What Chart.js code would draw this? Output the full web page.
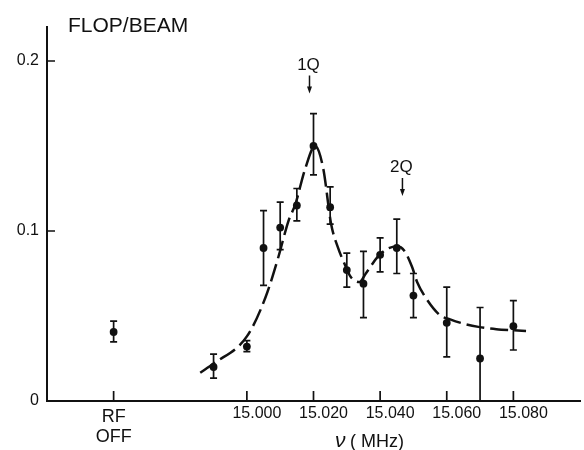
<!DOCTYPE html>
<html>
<head>
<meta charset="utf-8">
<title>Flop per beam vs RF frequency</title>
<script src="https://cdn.jsdelivr.net/npm/chart.js@4.4.0/dist/chart.umd.min.js"></script>
<style>
  html, body { margin: 0; padding: 0; background: #fff; }
  #flopChart { display: block; }
</style>
</head>
<body>
<canvas id="flopChart" width="584" height="450"></canvas>
<script>
// Measured flop/beam against RF frequency (MHz)
const freqs   = [14.990, 15.000, 15.005, 15.010, 15.015, 15.020, 15.025, 15.030, 15.035, 15.040, 15.045, 15.050, 15.060, 15.070, 15.080];
const flop    = [0.020, 0.032, 0.090, 0.102, 0.115, 0.150, 0.114, 0.077, 0.069, 0.086, 0.090, 0.062, 0.046, 0.025, 0.044];
const errLow  = [0.0135, 0.029, 0.068, 0.089, 0.106, 0.133, 0.104, 0.067, 0.049, 0.076, 0.075, 0.049, 0.026, 0.000, 0.030];
const errHigh = [0.0276, 0.0355, 0.112, 0.117, 0.125, 0.169, 0.126, 0.087, 0.088, 0.096, 0.107, 0.075, 0.067, 0.055, 0.059];

// RF off reference, placed left of the frequency scale
const rfOffPos = 14.960;
const rfOffFlop = 0.0406;
const rfOffErr = [0.0348, 0.047];

// Fitted line shape (two resonances)
const fitFreq = [14.986, 14.990, 15.000, 15.0056, 15.0095, 15.0125, 15.0146, 15.0174, 15.0205, 15.0229, 15.0253, 15.0273, 15.0293, 15.0312, 15.0338, 15.0357, 15.0392, 15.0422, 15.0452, 15.0472, 15.0496, 15.0511, 15.0536, 15.058, 15.061, 15.065, 15.0695, 15.0749, 15.0799, 15.0838];
const fitFlop = [0.0166, 0.022, 0.038, 0.061, 0.085, 0.106, 0.116, 0.136, 0.150, 0.137, 0.104, 0.0905, 0.0807, 0.0729, 0.070, 0.075, 0.0846, 0.0896, 0.0909, 0.0886, 0.0788, 0.070, 0.061, 0.0504, 0.048, 0.0455, 0.0436, 0.0422, 0.0416, 0.0412];

// Resonance markers
const peakLabels = ['1Q', '2Q'];
const peakFreqs = [15.0188, 15.0467];
const peakTops = [0.195, 0.1347];

// Axis ticks
const xTicks = [15.000, 15.020, 15.040, 15.060, 15.080];
const xTickLabels = ['15.000', '15.020', '15.040', '15.060', '15.080'];
const rfOffLabel = ['RF', 'OFF'];
const yTicks = [0, 0.1, 0.2];
const yTickLabels = ['0', '0.1', '0.2'];

const INK = '#111';
const FONT = '"Liberation Sans", Arial, sans-serif';

Chart.defaults.font.family = FONT;
Chart.defaults.color = INK;

// Error bars, inward ticks, labels and resonance arrows
const figureMarks = {
  id: 'figureMarks',
  afterDatasetsDraw(chart) {
    const { ctx, chartArea } = chart;
    const xs = chart.scales.x;
    const ys = chart.scales.y;
    ctx.save();
    ctx.strokeStyle = INK;
    ctx.lineWidth = 1.7;

    const bar = (xv, lo, hi) => {
      const px = xs.getPixelForValue(xv);
      const y0 = ys.getPixelForValue(lo);
      const y1 = ys.getPixelForValue(hi);
      ctx.beginPath();
      ctx.moveTo(px, y0); ctx.lineTo(px, y1);
      ctx.moveTo(px - 3.5, y0); ctx.lineTo(px + 3.5, y0);
      ctx.moveTo(px - 3.5, y1); ctx.lineTo(px + 3.5, y1);
      ctx.stroke();
    };
    freqs.forEach((f, i) => bar(f, errLow[i], errHigh[i]));
    bar(rfOffPos, rfOffErr[0], rfOffErr[1]);

    // inward tick marks
    ctx.lineWidth = 1.7;
    ctx.beginPath();
    [rfOffPos, ...xTicks].forEach((v) => {
      const px = xs.getPixelForValue(v);
      ctx.moveTo(px, chartArea.bottom);
      ctx.lineTo(px, chartArea.bottom - 10);
    });
    yTicks.filter((v) => v > 0).forEach((v) => {
      const py = ys.getPixelForValue(v);
      ctx.moveTo(chartArea.left, py);
      ctx.lineTo(chartArea.left + 8, py);
    });
    ctx.stroke();

    // resonance arrows
    ctx.fillStyle = INK;
    ctx.textAlign = 'center';
    ctx.textBaseline = 'alphabetic';
    ctx.font = '17px ' + FONT;
    peakLabels.forEach((lab, i) => {
      const px = xs.getPixelForValue(peakFreqs[i]);
      const py = ys.getPixelForValue(peakTops[i]);
      ctx.fillText(lab, px - 1, py);
      ctx.lineWidth = 1.5;
      ctx.beginPath();
      ctx.moveTo(px, py + 6);
      ctx.lineTo(px, py + 20);
      ctx.stroke();
      ctx.beginPath();
      ctx.moveTo(px - 2.5, py + 17);
      ctx.lineTo(px + 2.5, py + 17);
      ctx.lineTo(px, py + 24);
      ctx.closePath();
      ctx.fill();
    });

    // x tick labels
    ctx.font = '16px ' + FONT;
    xTicks.forEach((v, i) => {
      ctx.fillText(xTickLabels[i], xs.getPixelForValue(v) + 10, chartArea.bottom + 17);
    });
    ctx.font = '18px ' + FONT;
    const rfx = xs.getPixelForValue(rfOffPos);
    ctx.fillText(rfOffLabel[0], rfx, chartArea.bottom + 21);
    ctx.fillText(rfOffLabel[1], rfx, chartArea.bottom + 41);

    // axis titles
    ctx.textAlign = 'left';
    ctx.font = '21px ' + FONT;
    ctx.fillText('FLOP/BEAM', 68, 32);
    ctx.font = 'italic 21px ' + FONT;
    ctx.fillText('\u03bd', 335, 447);
    ctx.font = '18px ' + FONT;
    ctx.fillText('( MHz)', 350, 447);
    ctx.restore();
  }
};

const chart = new Chart(document.getElementById('flopChart').getContext('2d'), {
  type: 'scatter',
  data: {
    datasets: [
      {
        label: 'data',
        data: [{ x: rfOffPos, y: rfOffFlop }, ...freqs.map((f, i) => ({ x: f, y: flop[i] }))],
        backgroundColor: INK,
        borderColor: INK,
        pointRadius: 3.9,
        pointBorderWidth: 0,
      },
      {
        label: 'fit',
        type: 'line',
        data: fitFreq.map((f, i) => ({ x: f, y: fitFlop[i] })),
        borderColor: INK,
        borderWidth: 2.5,
        borderDash: [18, 6],
        cubicInterpolationMode: 'monotone',
        pointRadius: 0,
        fill: false,
      },
    ],
  },
  options: {
    responsive: false,
    animation: false,
    layout: { padding: { top: 27, right: 0, left: 0, bottom: 0 } },
    plugins: {
      legend: { display: false },
      tooltip: { enabled: false },
    },
    scales: {
      x: {
        type: 'linear',
        min: 14.94,
        max: 15.10,
        grid: { display: false, drawTicks: false },
        border: { display: true, color: INK, width: 2 },
        ticks: { display: false },
        afterFit: (scale) => { scale.height = 49; },
      },
      y: {
        type: 'linear',
        min: 0,
        max: 0.22,
        grid: { display: false, drawTicks: false },
        border: { display: true, color: INK, width: 2 },
        afterBuildTicks: (scale) => { scale.ticks = yTicks.map((v) => ({ value: v })); },
        ticks: {
          color: INK,
          font: { size: 16 },
          padding: 8,
          callback: (v) => yTickLabels[yTicks.indexOf(v)],
        },
        afterFit: (scale) => { scale.width = 47; },
      },
    },
  },
  plugins: [figureMarks],
});
</script>
</body>
</html>
